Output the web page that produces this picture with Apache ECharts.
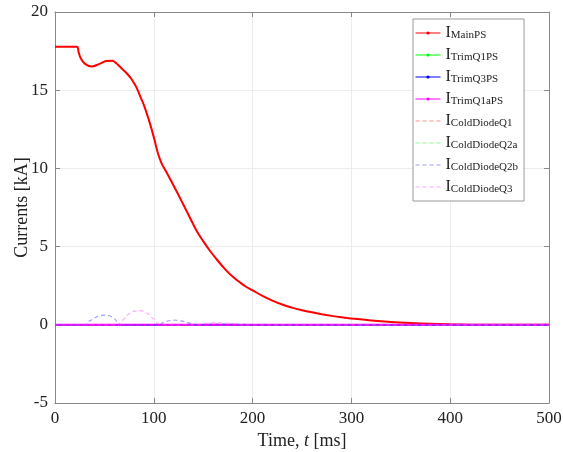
<!DOCTYPE html>
<html>
<head>
<meta charset="utf-8">
<script src="https://cdn.jsdelivr.net/npm/echarts@6/dist/echarts.min.js"></script>
<style>html,body{margin:0;padding:0;background:#fff}#c{width:563px;height:452px}</style>
</head>
<body>
<div id="c"></div>
<script>
// ---- data ----
var seriesNames = ['MainPS','TrimQ1PS','TrimQ3PS','TrimQ1aPS','ColdDiodeQ1','ColdDiodeQ2a','ColdDiodeQ2b','ColdDiodeQ3'];
var xTicks = [0,100,200,300,400,500];
var yTicks = [-5,0,5,10,15,20];

var tMain = [0,22,24,26,30,37,45,52,58,62,65,69,73,77,80,83,87,90,95,100,104,108,112,118,125,131,137,143,150,157,165,173,180,187,193,200,210,220,230,240,250,260,270,280,290,300,320,340,360,380,400,420,440,470,500];
var vMain = [17.78,17.78,17.4,17.05,16.7,16.52,16.68,16.86,16.88,16.72,16.55,16.3,16.05,15.75,15.45,15.1,14.5,14.05,13.1,12.0,11.0,10.3,9.85,9.15,8.3,7.55,6.8,6.05,5.35,4.72,4.08,3.5,3.07,2.72,2.45,2.2,1.85,1.55,1.3,1.1,0.93,0.8,0.68,0.57,0.48,0.41,0.28,0.18,0.11,0.06,0.03,0.01,0,0,0];

var tZero = [0,500];
var vTrimQ1 = [0,0];
var vTrimQ3 = [0,0];
var vTrimQ1a = [0,0];
var vDiodeQ1 = [0,0];
var vDiodeQ2a = [0,0];

var tQ2b = [0,30,35,40,45,50,55,60,64,66,106,110,115,120,125,130,135,140,145,150,160,170,180,190,200,500];
var vQ2b = [0,0,0.25,0.45,0.58,0.62,0.58,0.4,0.12,0,0,0.15,0.26,0.3,0.28,0.22,0.12,0.03,0,0.03,0.04,0.04,0.04,0.03,0,0];

var tQ3 = [0,66,70,75,80,85,90,95,100,104,107,145,150,160,170,180,186,190,500];
var vQ3 = [0,0,0.4,0.7,0.87,0.92,0.86,0.66,0.36,0.08,0,0,0.06,0.12,0.12,0.08,0.02,0,0];

function pairs(t, v){ return t.map(function(x,i){ return [x, v[i]]; }); }

var font = 'Liberation Serif';
var chart = echarts.init(document.getElementById('c'), null, {renderer:'canvas'});

function solid(name, color, t, v, width, z){
  return {name:name, type:'line', data:pairs(t,v), showSymbol:false, symbol:'circle', symbolSize:3,
    smooth:0.4, lineStyle:{color:color, width:width}, itemStyle:{color:color}, z:z, silent:true, animation:false};
}
function dashed(name, color, t, v, z){
  return {name:name, type:'line', data:pairs(t,v), showSymbol:false, symbol:'none',
    smooth:0.4, smoothMonotone:'x', lineStyle:{color:color, width:1.2, type:[4,3]}, itemStyle:{color:color}, z:z, silent:true, animation:false};
}

var legendData = seriesNames.map(function(n, i){
  return i < 4 ? {name:n, lineStyle:{width:1}} : {name:n, itemStyle:{opacity:0}, lineStyle:{width:1}};
});

var option = {
  backgroundColor:'#fff',
  animation:false,
  grid:{left:55, right:14, top:12, bottom:49, outerBoundsMode:'none', containLabel:false},
  legend:{
    orient:'vertical', left:413, top:19, width:109,
    itemWidth:25, itemHeight:4, itemGap:2,
    padding:[2,6,6,2],
    backgroundColor:'#fff', borderColor:'#999', borderWidth:1,
    data: legendData,
    formatter: function(n){ return '{i|I}{s|' + n + '}'; },
    textStyle:{
      fontFamily:font, color:'#222',
      rich:{
        i:{fontSize:16, fontFamily:font, color:'#222', verticalAlign:'top', lineHeight:16},
        s:{fontSize:11, fontFamily:font, color:'#222', verticalAlign:'bottom', lineHeight:11, padding:[9,0,0,0]}
      }
    }
  },
  xAxis:[{
    type:'value', min:0, max:500, interval:100, position:'bottom',
    name:'Time, {it|t} [ms]', nameLocation:'middle', nameGap:28,
    nameTextStyle:{fontFamily:font, fontSize:18, color:'#222', rich:{it:{fontFamily:font, fontSize:18, fontStyle:'italic', color:'#222'}}},
    axisLine:{show:true, onZero:false, lineStyle:{color:'#888', width:1}},
    axisTick:{show:true, inside:true, length:5, lineStyle:{color:'#888'}},
    axisLabel:{fontFamily:font, fontSize:17, color:'#222', margin:7},
    splitLine:{show:true, lineStyle:{color:'#ececec', width:1}}
  },{
    type:'value', min:0, max:500, interval:100, position:'top',
    axisLine:{show:true, onZero:false, lineStyle:{color:'#888', width:1}},
    axisTick:{show:true, inside:true, length:5, lineStyle:{color:'#888'}},
    axisLabel:{show:false}, splitLine:{show:false}
  }],
  yAxis:[{
    type:'value', min:-5, max:20, interval:5, position:'left',
    name:'Currents [kA]', nameLocation:'middle', nameGap:24, nameRotate:90, nameMoveOverlap:false,
    nameTextStyle:{fontFamily:font, fontSize:18, color:'#222'},
    axisLine:{show:true, onZero:false, lineStyle:{color:'#888', width:1}},
    axisTick:{show:true, inside:true, length:5, lineStyle:{color:'#888'}},
    axisLabel:{fontFamily:font, fontSize:17, color:'#222', margin:7},
    splitLine:{show:true, lineStyle:{color:'#ececec', width:1}}
  },{
    type:'value', min:-5, max:20, interval:5, position:'right',
    axisLine:{show:true, onZero:false, lineStyle:{color:'#888', width:1}},
    axisTick:{show:true, inside:true, length:5, lineStyle:{color:'#888'}},
    axisLabel:{show:false}, splitLine:{show:false}
  }],
  series:[
    solid('MainPS', '#ff0000', tMain, vMain, 2, 5),
    solid('TrimQ1PS', '#00ff00', tZero, vTrimQ1, 1.5, 6),
    solid('TrimQ3PS', '#0000ff', tZero, vTrimQ3, 1.5, 7),
    dashed('ColdDiodeQ1', 'rgba(255,0,0,0.45)', tZero, vDiodeQ1, 3),
    dashed('ColdDiodeQ2a', 'rgba(0,255,0,0.45)', tZero, vDiodeQ2a, 3),
    dashed('ColdDiodeQ2b', 'rgba(60,60,255,0.5)', tQ2b, vQ2b, 9),
    dashed('ColdDiodeQ3', 'rgba(255,80,255,0.5)', tQ3, vQ3, 9),
    solid('TrimQ1aPS', '#ff00ff', tZero, vTrimQ1a, 2, 8)
  ]
};
chart.setOption(option);
</script>
</body>
</html>
